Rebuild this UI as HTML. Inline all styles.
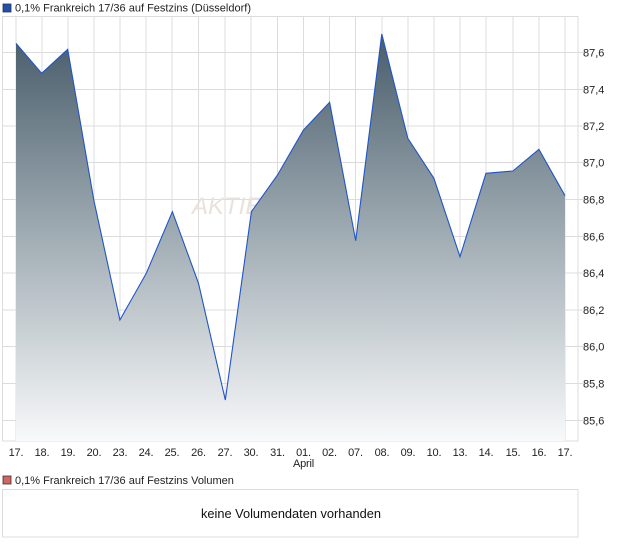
<!DOCTYPE html>
<html><head><meta charset="utf-8"><style>
body{margin:0;background:#fff;}
svg{display:block;font-family:"Liberation Sans",sans-serif;}
</style></head><body>
<svg width="620" height="546" viewBox="0 0 620 546" xmlns="http://www.w3.org/2000/svg">
<defs>
<linearGradient id="g" x1="0" y1="34" x2="0" y2="441" gradientUnits="userSpaceOnUse">
<stop offset="0" stop-color="#485c6a"/>
<stop offset="0.5" stop-color="#a1adb4"/>
<stop offset="1" stop-color="#f8f9fa"/>
</linearGradient>
</defs>
<rect x="3" y="4" width="8" height="8" fill="#1f4fb4" stroke="#333" stroke-width="0.8"/>
<text x="15" y="11.5" font-size="11" fill="#222">0,1% Frankreich 17/36 auf Festzins (Düsseldorf)</text>
<g stroke="#dcdcdc" stroke-width="1">
<line x1="2" y1="52.5" x2="584" y2="52.5"/><line x1="2" y1="89.5" x2="584" y2="89.5"/><line x1="2" y1="126" x2="584" y2="126"/><line x1="2" y1="162.5" x2="584" y2="162.5"/><line x1="2" y1="199.5" x2="584" y2="199.5"/><line x1="2" y1="236.5" x2="584" y2="236.5"/><line x1="2" y1="273" x2="584" y2="273"/><line x1="2" y1="310" x2="584" y2="310"/><line x1="2" y1="346.5" x2="584" y2="346.5"/><line x1="2" y1="383.5" x2="584" y2="383.5"/><line x1="2" y1="420.5" x2="584" y2="420.5"/>
<line x1="16" y1="16" x2="16" y2="441"/><line x1="42" y1="16" x2="42" y2="441"/><line x1="68" y1="16" x2="68" y2="441"/><line x1="94" y1="16" x2="94" y2="441"/><line x1="120" y1="16" x2="120" y2="441"/><line x1="146" y1="16" x2="146" y2="441"/><line x1="172" y1="16" x2="172" y2="441"/><line x1="198.5" y1="16" x2="198.5" y2="441"/><line x1="225" y1="16" x2="225" y2="441"/><line x1="251" y1="16" x2="251" y2="441"/><line x1="277.5" y1="16" x2="277.5" y2="441"/><line x1="303.5" y1="16" x2="303.5" y2="441"/><line x1="329.5" y1="16" x2="329.5" y2="441"/><line x1="355.5" y1="16" x2="355.5" y2="441"/><line x1="382" y1="16" x2="382" y2="441"/><line x1="408" y1="16" x2="408" y2="441"/><line x1="434" y1="16" x2="434" y2="441"/><line x1="460" y1="16" x2="460" y2="441"/><line x1="486" y1="16" x2="486" y2="441"/><line x1="513" y1="16" x2="513" y2="441"/><line x1="539" y1="16" x2="539" y2="441"/><line x1="565" y1="16" x2="565" y2="441"/>
<rect x="2.5" y="16.5" width="575.5" height="424.5" fill="none"/>
</g>
<text x="192" y="214" font-size="24" font-style="italic" fill="#e8e2dc">AKTIE</text>
<polygon fill="url(#g)" points="16,441 16,43.3 41.7,73.3 67.7,49.3 93.8,200 119.9,320 146.3,273.3 172.4,211.7 198.5,283.3 225.3,400 251.4,211.7 277.5,175 303.5,130 329.6,102.3 355.7,240.7 381.8,34 407.8,138.3 433.9,178.3 460,256.7 486,173.3 512.9,171 538.9,149.3 565,195.7 565,441"/>
<polyline fill="none" stroke="#1f55c8" stroke-width="1.1" points="16,43.3 41.7,73.3 67.7,49.3 93.8,200 119.9,320 146.3,273.3 172.4,211.7 198.5,283.3 225.3,400 251.4,211.7 277.5,175 303.5,130 329.6,102.3 355.7,240.7 381.8,34 407.8,138.3 433.9,178.3 460,256.7 486,173.3 512.9,171 538.9,149.3 565,195.7"/>
<g font-size="11" fill="#222">
<text x="583" y="56.5">87,6</text><text x="583" y="93.5">87,4</text><text x="583" y="130">87,2</text><text x="583" y="166.5">87,0</text><text x="583" y="203.5">86,8</text><text x="583" y="240.5">86,6</text><text x="583" y="277">86,4</text><text x="583" y="314">86,2</text><text x="583" y="350.5">86,0</text><text x="583" y="387.5">85,8</text><text x="583" y="424.5">85,6</text>
</g>
<g font-size="11" fill="#222" text-anchor="middle" letter-spacing="-0.2">
<text x="16" y="456">17.</text><text x="42" y="456">18.</text><text x="68" y="456">19.</text><text x="94" y="456">20.</text><text x="120" y="456">23.</text><text x="146" y="456">24.</text><text x="172" y="456">25.</text><text x="198.5" y="456">26.</text><text x="225" y="456">27.</text><text x="251" y="456">30.</text><text x="277.5" y="456">31.</text><text x="303.5" y="456">01.</text><text x="329.5" y="456">02.</text><text x="355.5" y="456">07.</text><text x="382" y="456">08.</text><text x="408" y="456">09.</text><text x="434" y="456">10.</text><text x="460" y="456">13.</text><text x="486" y="456">14.</text><text x="513" y="456">15.</text><text x="539" y="456">16.</text><text x="565" y="456">17.</text>
<text x="303.5" y="467">April</text>
</g>
<rect x="3" y="476" width="8" height="8" fill="#d46464" stroke="#333" stroke-width="0.8"/>
<text x="15" y="484" font-size="11" fill="#222">0,1% Frankreich 17/36 auf Festzins Volumen</text>
<rect x="2.5" y="489.5" width="575.5" height="47.5" fill="none" stroke="#dcdcdc"/>
<text x="291" y="518" font-size="12.8" fill="#111" text-anchor="middle">keine Volumendaten vorhanden</text>
</svg>
</body></html>
